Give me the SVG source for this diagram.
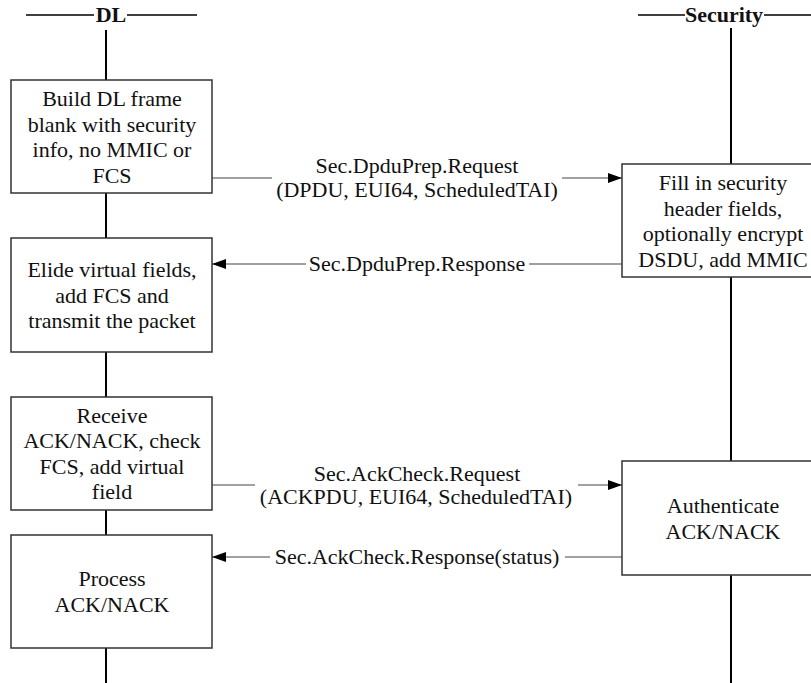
<svg xmlns="http://www.w3.org/2000/svg" width="811" height="683" viewBox="0 0 811 683">
  <style>
    text { font-family: "Liberation Serif", "DejaVu Serif", "Times New Roman", serif; font-size: 22px; fill: #111; text-anchor: middle; }
    .hdr { font-weight: bold; }
    .life { stroke: #000; stroke-width: 2; fill: none; }
    .box { fill: #fff; stroke: #333; stroke-width: 1.5; }
    .msg { stroke: #444; stroke-width: 1.2; fill: none; }
  </style>
  <defs>
    <marker id="arrow" viewBox="0 0 14 10" refX="14" refY="5" markerWidth="14" markerHeight="10" markerUnits="userSpaceOnUse" orient="auto">
      <path d="M0,0 L14,5 L0,10 z" fill="#000"/>
    </marker>
  </defs>

  <!-- Lifeline headers -->
  <g id="hdr-dl">
    <line x1="26" y1="15" x2="94" y2="15" stroke="#000" stroke-width="1.5"/>
    <line x1="127" y1="15" x2="197" y2="15" stroke="#000" stroke-width="1.5"/>
    <text class="hdr" x="111" y="22">DL</text>
  </g>
  <g id="hdr-security">
    <line x1="638" y1="15" x2="685" y2="15" stroke="#000" stroke-width="1.5"/>
    <line x1="764" y1="15" x2="811" y2="15" stroke="#000" stroke-width="1.5"/>
    <text class="hdr" x="724" y="22">Security</text>
  </g>

  <!-- Lifelines -->
  <g id="lifelines">
    <line class="life" x1="106" y1="30" x2="106" y2="80"/>
    <line class="life" x1="106" y1="193" x2="106" y2="238"/>
    <line class="life" x1="106" y1="352" x2="106" y2="397"/>
    <line class="life" x1="106" y1="510" x2="106" y2="535"/>
    <line class="life" x1="106" y1="648" x2="106" y2="683"/>
    <line class="life" x1="731" y1="28" x2="731" y2="164"/>
    <line class="life" x1="731" y1="277" x2="731" y2="461"/>
    <line class="life" x1="731" y1="575" x2="731" y2="683"/>
  </g>

  <!-- DL activities -->
  <g id="dl-build">
    <rect class="box" x="11" y="80" width="201" height="113"/>
    <text x="112" y="106">Build DL frame</text>
    <text x="112" y="131.5">blank with security</text>
    <text x="112" y="157">info, no MMIC or</text>
    <text x="112" y="182.5">FCS</text>
  </g>
  <g id="dl-elide">
    <rect class="box" x="11" y="238" width="201" height="114"/>
    <text x="112" y="277">Elide virtual fields,</text>
    <text x="112" y="302.5">add FCS and</text>
    <text x="112" y="328">transmit the packet</text>
  </g>
  <g id="dl-receive">
    <rect class="box" x="11" y="397" width="201" height="113"/>
    <text x="112" y="422.5">Receive</text>
    <text x="112" y="448">ACK/NACK, check</text>
    <text x="112" y="473.5">FCS, add virtual</text>
    <text x="112" y="499">field</text>
  </g>
  <g id="dl-process">
    <rect class="box" x="11" y="535" width="201" height="113"/>
    <text x="112" y="586">Process</text>
    <text x="112" y="611.5">ACK/NACK</text>
  </g>

  <!-- Security activities -->
  <g id="sec-fill">
    <rect class="box" x="622" y="164" width="210" height="113"/>
    <text x="723" y="190">Fill in security</text>
    <text x="723" y="215.5">header fields,</text>
    <text x="723" y="241">optionally encrypt</text>
    <text x="723" y="266.5">DSDU, add MMIC</text>
  </g>
  <g id="sec-auth">
    <rect class="box" x="622" y="461" width="210" height="114"/>
    <text x="723" y="513">Authenticate</text>
    <text x="723" y="538.5">ACK/NACK</text>
  </g>

  <!-- Messages -->
  <g id="connectors">
    <line class="msg" x1="212" y1="178" x2="272" y2="178"/>
    <line class="msg" x1="562" y1="178" x2="622" y2="178" marker-end="url(#arrow)"/>
    <text x="417" y="173">Sec.DpduPrep.Request</text>
    <text x="417" y="197">(DPDU, EUI64, ScheduledTAI)</text>

    <line class="msg" x1="622" y1="264" x2="529" y2="264"/>
    <line class="msg" x1="306" y1="264" x2="212" y2="264" marker-end="url(#arrow)"/>
    <text x="417" y="271">Sec.DpduPrep.Response</text>

    <line class="msg" x1="212" y1="485" x2="255" y2="485"/>
    <line class="msg" x1="578" y1="485" x2="622" y2="485" marker-end="url(#arrow)"/>
    <text x="417" y="481">Sec.AckCheck.Request</text>
    <text x="416" y="504">(ACKPDU, EUI64, ScheduledTAI)</text>

    <line class="msg" x1="622" y1="557" x2="565" y2="557"/>
    <line class="msg" x1="270" y1="557" x2="212" y2="557" marker-end="url(#arrow)"/>
    <text x="417" y="564">Sec.AckCheck.Response(status)</text>
  </g>
</svg>
